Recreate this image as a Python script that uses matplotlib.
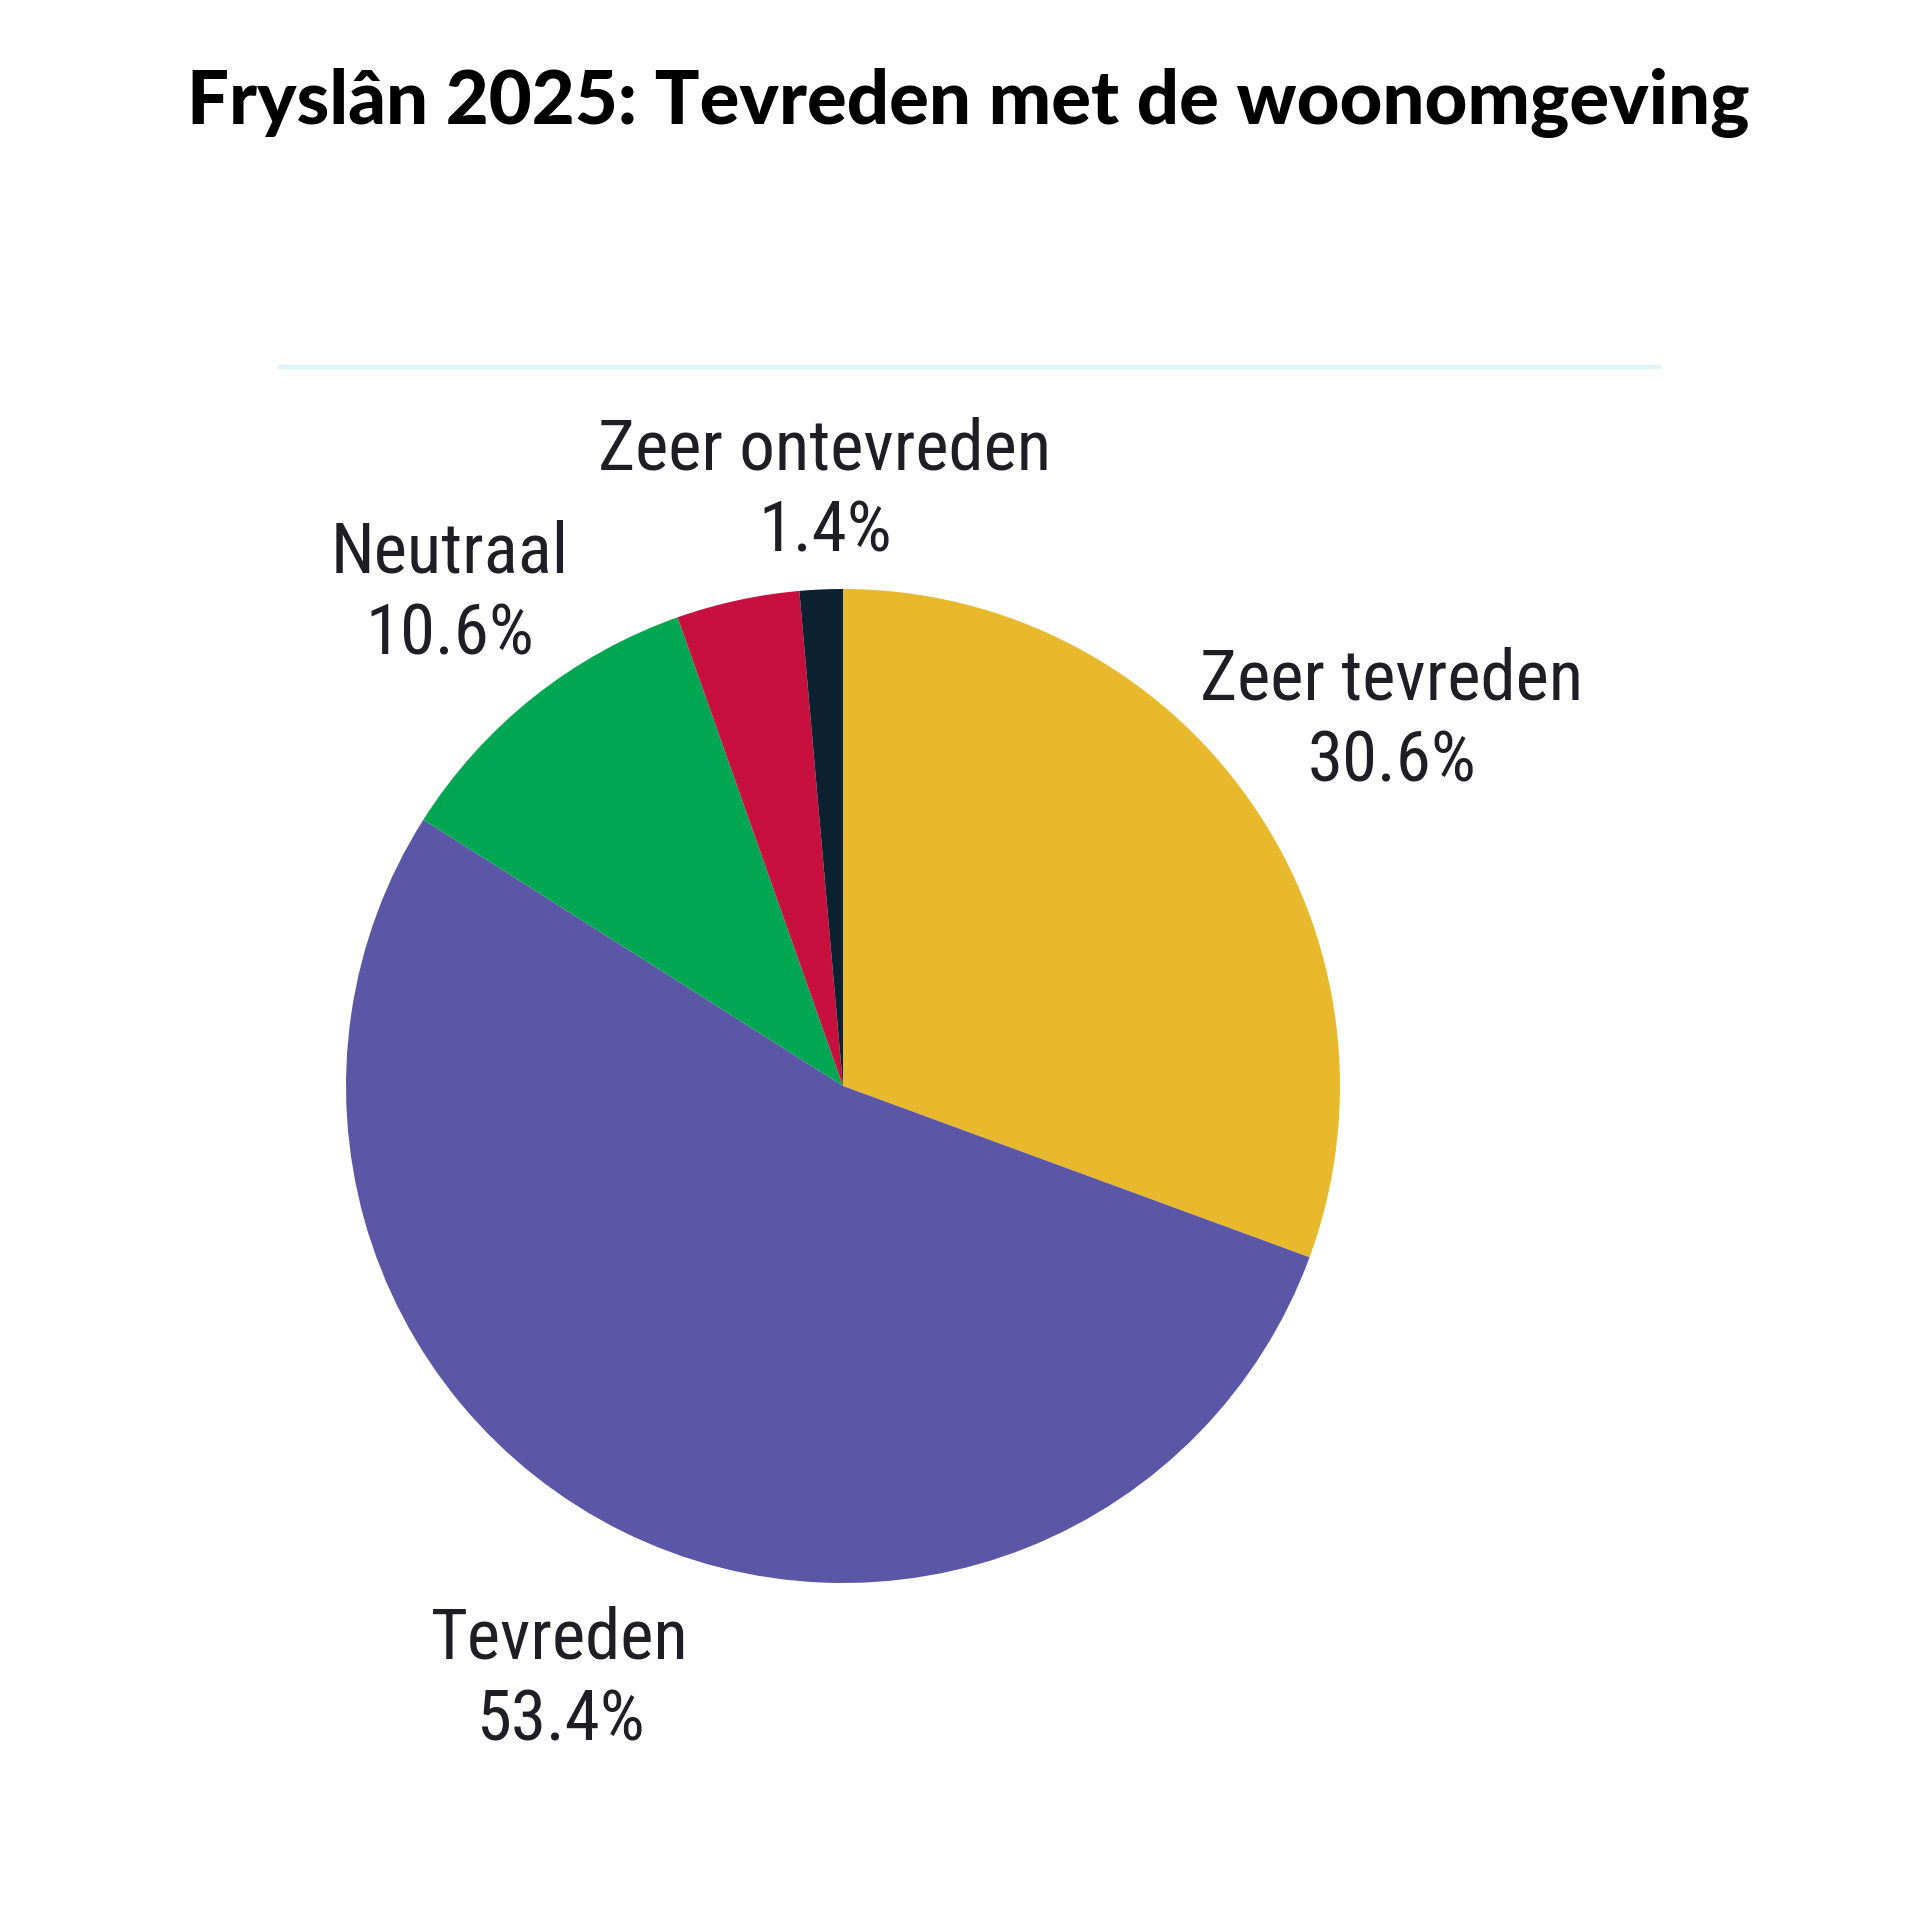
import matplotlib
matplotlib.use("Agg")
import matplotlib.pyplot as plt
from matplotlib import font_manager

categories = ["Zeer tevreden", "Tevreden", "Neutraal", "Ontevreden", "Zeer ontevreden"]
values = [30.6, 53.4, 10.6, 4.0, 1.4]
colors = ["#E8B92D", "#5B57A6", "#00A651", "#C8103E", "#0D2230"]
shown_labels = ["Zeer tevreden", "Tevreden", "Neutraal", None, "Zeer ontevreden"]
title = "Fryslân 2025: Tevreden met de woonomgeving"

fl = font_manager.fontManager.ttflist
cond = [f for f in fl if ("Condensed" in f.name or "Narrow" in f.name
                          or (str(f.stretch) in ("condensed", "semi-condensed", "75", "87")))]
label_font = "Open Sans"
label_stretch = "normal"
for f in cond:
    if "Open Sans" in f.name or "Roboto" in f.name or "Noto Sans" in f.name or "Liberation" in f.name:
        label_font = f.name
        label_stretch = f.stretch
        break

title_font = "DejaVu Sans"
for cand in ["Lato", "Inter", "Roboto", "Open Sans", "Noto Sans"]:
    if any(f.name == cand and f.weight in (900, "black", "heavy") for f in fl):
        title_font = cand
        break

fig = plt.figure(figsize=(19.2, 19.2), dpi=100)
ax = fig.add_axes([0, 0, 1, 1])

H = 1920
cx, cy, r = 843, H - 1086, 497
ax.pie(values, colors=colors, startangle=90, counterclock=False,
       center=(cx, cy), radius=r, frame=True,
       wedgeprops=dict(linewidth=0))
ax.set_xlim(0, 1920)
ax.set_ylim(0, 1920)
ax.axis("off")

# thin separator line
ax.plot([278, 1661], [H - 367, H - 367], color="#DDF5F8", lw=3, solid_capstyle="butt")

label_pos = {
    "Zeer tevreden": (1392, 721),
    "Tevreden": (560, 1680),
    "Neutraal": (450, 594),
    "Zeer ontevreden": (825, 491),
}
for name, val in zip(shown_labels, values):
    if name is None:
        continue
    x, y = label_pos[name]
    ax.text(x, H - y, f"{name}\n{val:.1f}%", ha="center", va="center",
            fontsize=51, family=label_font, stretch=label_stretch,
            color="#1E1E24", linespacing=1.3)

fig.text(968 / 1920, 1 - 103 / 1920, title, ha="center", va="center",
         fontsize=53.5, fontweight=900, family=title_font, color="black")

fig.savefig("out.png", dpi=100, facecolor="white")
